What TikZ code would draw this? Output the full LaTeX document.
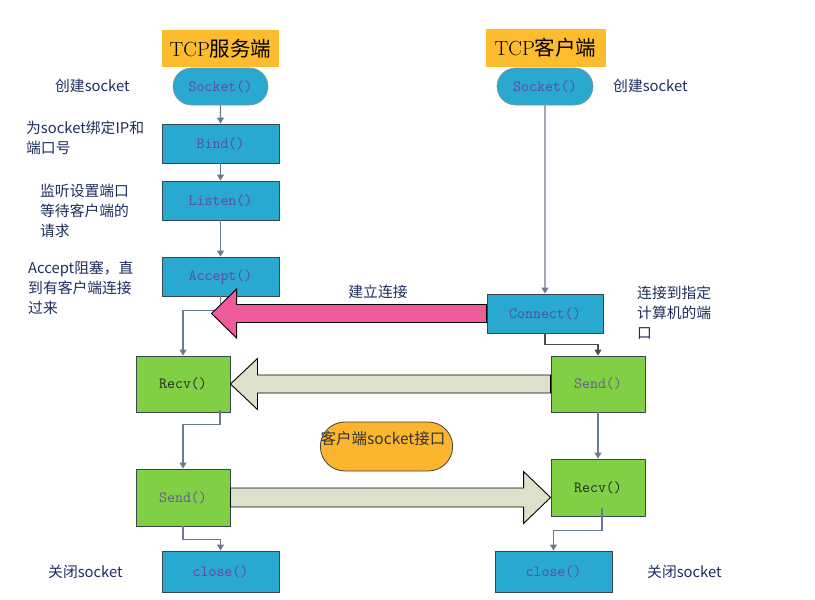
\documentclass[tikz,border=0pt]{standalone}
\usepackage{fontspec}
\newfontfamily\cjk{Noto Sans CJK SC}
\usetikzlibrary{arrows.meta,calc,shapes.misc}
\definecolor{boxblue}{HTML}{29A8D0}
\definecolor{boxgreen}{HTML}{80CF45}
\definecolor{boxline}{HTML}{3A4650}
\definecolor{titleor}{HTML}{FDBB2E}
\definecolor{ifaceor}{HTML}{FBB52E}
\definecolor{pinkarr}{HTML}{EE5C9C}
\definecolor{grayarr}{HTML}{DCE1CB}
\definecolor{connline}{HTML}{6B7A8C}
\definecolor{navy}{HTML}{1F2D5C}
\definecolor{codepurple}{HTML}{5A4CA5}
\definecolor{sendpurple}{HTML}{6A5A90}
\begin{document}
\begin{tikzpicture}[x=1pt,y=1pt,
  code/.style={font={\fontsize{15.5}{18}\selectfont\ttfamily}, text=codepurple},
  bluebox/.style={code, draw=boxline, fill=boxblue, line width=0.9pt, minimum width=117pt, minimum height=39pt, inner sep=0pt},
  pill/.style={code, rounded rectangle, draw=boxline!60, fill=boxblue, line width=0.6pt, minimum width=95pt, minimum height=37pt, inner sep=0pt},
  greenbox/.style={code, draw=boxline, fill=boxgreen, line width=0.9pt, minimum width=94pt, minimum height=56pt, inner sep=0pt},
  titlebox/.style={fill=titleor, minimum width=117pt, minimum height=37pt, inner sep=0pt},
  lbl/.style={text=navy, font={\cjk\fontsize{14.8}{20}\selectfont}, align=left, anchor=west, inner sep=0pt},
  conn/.style={draw=connline, line width=1.1pt, -{Triangle[length=6pt,width=7pt]}},
  blockarrow/.style={draw=black, line width=0.9pt, line join=miter}
]
\useasboundingbox (0,0) rectangle (815,-600);

% titles
\node[titlebox] (st) at (220.5,-48.5) {\fontsize{20.5}{24}\selectfont\rmfamily TCP\cjk 服务端};
\node[titlebox, minimum width=120pt, minimum height=38pt] (ct) at (545.5,-48) {\fontsize{20.5}{24}\selectfont\rmfamily TCP\cjk 客户端};

% server column
\node[pill] (ssock) at (220.5,-86.5) {Socket()};
\node[bluebox] (bind) at (220.5,-143.5) {Bind()};
\node[bluebox] (listen) at (220.5,-200.5) {Listen()};
\node[bluebox] (accept) at (220.5,-276.5) {Accept()};
\node[greenbox, text=black!85] (srecv) at (183,-384) {Recv()};
\node[greenbox, minimum height=57pt, text=sendpurple] (ssend) at (183,-497.5) {Send()};
\node[bluebox, minimum height=41pt] (sclose) at (220.5,-571.5) {close()};

% client column
\node[pill, minimum width=96pt] (csock) at (545,-86.5) {Socket()};
\node[bluebox, minimum width=116pt] (cconn) at (545,-313.5) {Connect()};
\node[greenbox, text=sendpurple] (csend) at (598,-384) {Send()};
\node[greenbox, minimum height=57pt, text=black!85] (crecv) at (598,-487.5) {Recv()};
\node[bluebox, minimum height=41pt] (cclose) at (553.5,-571.5) {close()};

% interface pill
\node[rounded rectangle, draw=black!75, fill=ifaceor, line width=0.8pt, minimum width=139pt, minimum height=49pt] (iface) at (386.5,-446.5) {};
\node[font={\cjk\fontsize{15.5}{18}\selectfont}, text=black!80, inner sep=0pt] (ifacetxt) at (383,-439) {客户端socket接口};

% connectors
\draw[conn] (ssock) -- (bind);
\draw[conn] (bind) -- (listen);
\draw[conn] (listen) -- (accept);
\draw[conn] (accept.south) -- ++(0,-14) -| (srecv.north);
\draw[conn] ($(srecv.south)+(37,2)$) -- ++(0,-14) -| (ssend.north);
\draw[conn] (ssend.south) -- ++(0,-13) -| (sclose.north);
\draw[conn] (csock) -- (cconn);
\draw[draw=black!70, line width=1.1pt, -{Triangle[length=6pt,width=7pt]}] (cconn.south) -- ++(0,-11) -| (csend.north);
\draw[conn] (csend) -- (crecv);
\draw[conn] ($(crecv.south)+(4,8)$) -- ++(0,-22) -| (cclose.north);

% block arrows
\coordinate (ptip) at ($(cconn.west)+(-275,0)$);
\draw[blockarrow, fill=pinkarr] ($(cconn.west)+(0,9)$) -- ($(ptip)+(25,9)$) -- ($(ptip)+(25,24.5)$) -- (ptip)
  -- ($(ptip)+(25,-24.5)$) -- ($(ptip)+(25,-9)$) -- ($(cconn.west)+(0,-9)$) -- cycle;
\draw[blockarrow, fill=grayarr] ($(csend.west)+(0,9)$) -- ($(srecv.east)+(27,9)$) -- ($(srecv.east)+(27,25.5)$) -- (srecv.east)
  -- ($(srecv.east)+(27,-25.5)$) -- ($(srecv.east)+(27,-9)$) -- ($(csend.west)+(0,-9)$) -- cycle;
\coordinate (rtip) at (crecv.west |- ssend.east);
\draw[blockarrow, fill=grayarr] ($(ssend.east)+(0,9.5)$) -- ($(rtip)+(-27,9.5)$) -- ($(rtip)+(-27,26)$) -- (rtip)
  -- ($(rtip)+(-27,-26)$) -- ($(rtip)+(-27,-9.5)$) -- ($(ssend.east)+(0,-9.5)$) -- cycle;

% labels
\node[lbl] (l1) at (55,-86) {创建socket};
\node[lbl] (l2) at (26,-138) {为socket绑定IP和\\端口号};
\node[lbl] (l3) at (40,-211) {监听设置端口\\等待客户端的\\请求};
\node[lbl] (l4) at (28,-288) {Accept阻塞，直\\到有客户端连接\\过来};
\node[lbl] (l5) at (48,-572) {关闭socket};
\node[lbl] (r1) at (613,-86) {创建socket};
\node[lbl] (r2) at (637,-312.5) {连接到指定\\计算机的端\\口};
\node[lbl] (r3) at (647,-572) {关闭socket};
\node[lbl, anchor=center] (est) at (378,-292) {建立连接};
\end{tikzpicture}
\end{document}
